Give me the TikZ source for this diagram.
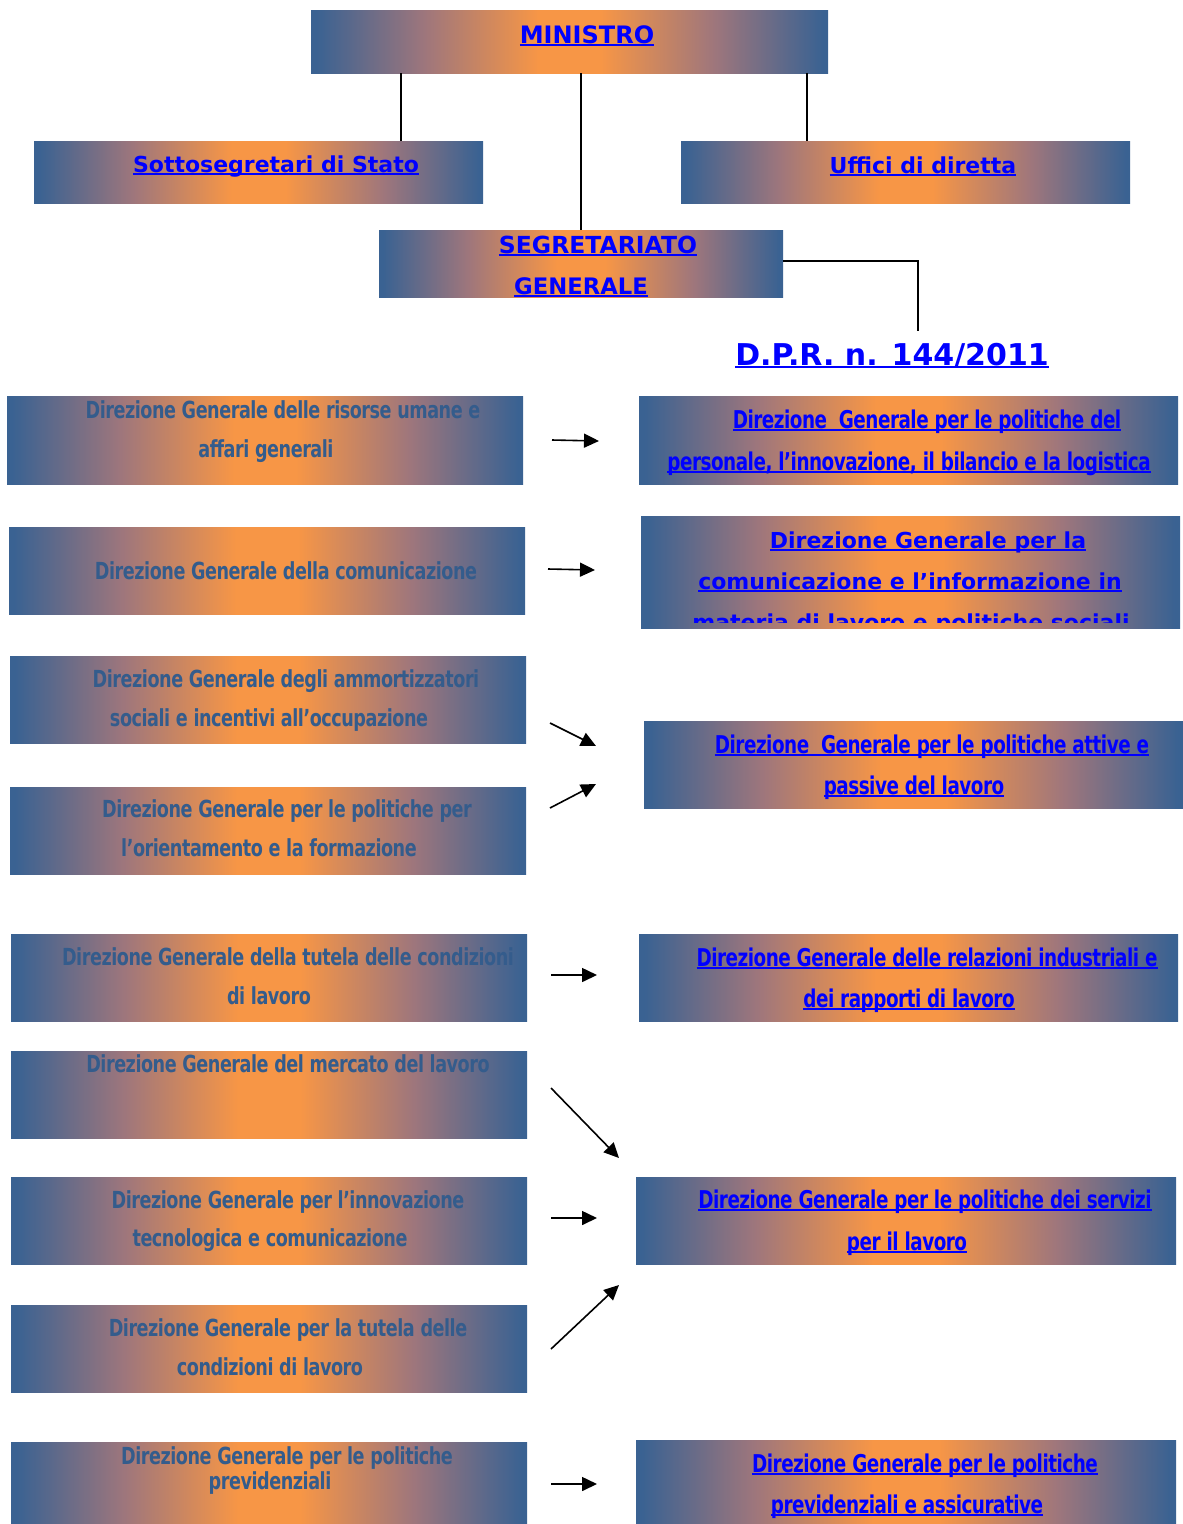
\documentclass[tikz,border=0pt]{standalone}
\usepackage{fontspec}
\usetikzlibrary{arrows.meta}
\setmainfont{DejaVu Sans}
\newfontfamily\verdb{DejaVu Sans Bold}
\newfontfamily\condb{DejaVu Sans Bold}[FakeStretch=0.75,LetterSpace=-2]
\definecolor{boxblue}{RGB}{58,98,146}
\definecolor{boxorange}{RGB}{247,150,70}
\definecolor{boxmauve}{RGB}{158,118,124}
\definecolor{dimtext}{RGB}{52,92,140}
\definecolor{linkblue}{RGB}{0,0,255}
\pgfdeclarehorizontalshading{bluorange}{100bp}{
  color(0bp)=(boxblue); color(25.5bp)=(boxblue); color(36bp)=(boxmauve); color(47bp)=(boxorange);
  color(53bp)=(boxorange); color(64bp)=(boxmauve); color(74.5bp)=(boxblue); color(100bp)=(boxblue)}
\newcommand{\ulx}[1]{\setbox0\hbox{#1}\rlap{\rule[-3pt]{\wd0}{1.8pt}}\box0}
\tikzset{
  orgbox/.style={rectangle, inner sep=0pt, shading=bluorange, draw=none},
  vtxt/.style={anchor=base, inner sep=0pt, text=linkblue, font=\verdb\fontsize{22}{26}\selectfont},
  ltxt/.style={anchor=base, inner sep=0pt, text=dimtext, font=\condb\fontsize{23.5}{26}\selectfont},
  rtxt/.style={anchor=base, inner sep=0pt, text=linkblue, font=\condb\fontsize{24.5}{28}\selectfont},
  conn/.style={line width=1.6pt, black},
  arr/.style={line width=1.6pt, black, -{Triangle[length=15pt,width=14pt]}}
}
\newcommand{\mkbox}[5]{\node[orgbox, minimum width={#4-#2}, minimum height={#5-#3}] (#1) at ({(#2+#4)/2},{(#3+#5)/2}) {};}
\begin{document}
\begin{tikzpicture}[x=1pt,y=-1pt]
\useasboundingbox (0,0) rectangle (1183,1524);
% top boxes
\mkbox{min}{311}{10}{828}{73}
\mkbox{sot}{34}{141}{483}{203}
\mkbox{uff}{681}{141}{1130}{203}
\mkbox{seg}{379}{230}{783}{297}
\node[vtxt,font=\verdb\fontsize{24}{28}\selectfont] (mint) at (587,43) {\ulx{MINISTRO}};
\node[vtxt] (sott) at (276,172) {\ulx{Sottosegretari di Stato}};
\node[vtxt] (ufft) at (923,173) {\ulx{Uffici di diretta}};
\node[vtxt,font=\verdb\fontsize{23.5}{28}\selectfont] (sega) at (598,253) {\ulx{SEGRETARIATO}};
\node[vtxt,font=\verdb\fontsize{22.7}{28}\selectfont] (segb) at (581,294) {\ulx{GENERALE}};
\node[vtxt,font=\verdb\fontsize{30}{34}\selectfont] (dpr) at (892,365) {\ulx{D.P.R. n. 144/2011}};
% connectors
\coordinate (c1) at (401,73);
\coordinate (c3) at (807,73);
\coordinate (c2) at (581,73);
\draw[conn] (c1) -- (c1 |- sot.north);
\draw[conn] (c2) -- (c2 |- seg.north);
\draw[conn] (c3) -- (c3 |- uff.north);
\coordinate (dprtop) at (918,331);
\draw[conn] (seg.east |- 0,261) -| (dprtop);
% left boxes
\mkbox{L1}{7}{396}{523}{484}
\mkbox{L2}{9}{527}{525}{614}
\mkbox{L3}{10}{656}{526}{743}
\mkbox{L4}{10}{787}{526}{874}
\mkbox{L5}{11}{934}{527}{1021}
\mkbox{L6}{11}{1051}{527}{1138}
\mkbox{L7}{11}{1177}{527}{1264}
\mkbox{L8}{11}{1305}{527}{1392}
\mkbox{L9}{11}{1442}{527}{1530}
\node[ltxt] (L1a) at (283,418) {Direzione Generale delle risorse umane e};
\node[ltxt] (L1b) at (266,457) {affari generali};
\node[ltxt] (L2a) at (286,579) {Direzione Generale della comunicazione};
\node[ltxt] (L3a) at (286,687) {Direzione Generale degli ammortizzatori};
\node[ltxt] (L3b) at (269,726) {sociali e incentivi all’occupazione};
\node[ltxt] (L4a) at (287,817) {Direzione Generale per le politiche per};
\node[ltxt] (L4b) at (269,856) {l’orientamento e la formazione};
\node[ltxt] (L5a) at (288,965) {Direzione Generale della tutela delle condizioni};
\node[ltxt] (L5b) at (269,1004) {di lavoro};
\node[ltxt] (L6a) at (288,1072) {Direzione Generale del mercato del lavoro};
\node[ltxt] (L7a) at (288,1208) {Direzione Generale per l’innovazione};
\node[ltxt] (L7b) at (270,1246) {tecnologica e comunicazione};
\node[ltxt] (L8a) at (288,1336) {Direzione Generale per la tutela delle};
\node[ltxt] (L8b) at (270,1375) {condizioni di lavoro};
\node[ltxt] (L9a) at (287,1464) {Direzione Generale per le politiche};
\node[ltxt] (L9b) at (270,1489) {previdenziali};
% right boxes
\mkbox{R1}{639}{396}{1178}{484}
\mkbox{R2}{641}{516}{1180}{628}
\mkbox{R3}{644}{721}{1183}{808}
\mkbox{R4}{639}{934}{1178}{1021}
\mkbox{R5}{636}{1177}{1176}{1264}
\mkbox{R6}{636}{1440}{1176}{1530}
\node[rtxt] (R1a) at (927,428) {\ulx{Direzione\ \ Generale per le politiche del}};
\node[rtxt] (R1b) at (909,470) {\ulx{personale, l’innovazione, il bilancio e la logistica}};
\node[vtxt] (R2a) at (928,548) {\ulx{Direzione Generale per la}};
\node[vtxt] (R2b) at (910,589) {\ulx{comunicazione e l’informazione in}};
\begin{scope}
\clip (R2.west |- 0,516) rectangle (R2.east |- 0,622);
\node[vtxt] (R2c) at (911,630) {\ulx{materia di lavoro e politiche sociali}};
\end{scope}
\node[rtxt] (R3a) at (932,753) {\ulx{Direzione\ \ Generale per le politiche attive e}};
\node[rtxt] (R3b) at (914,794) {\ulx{passive del lavoro}};
\node[rtxt] (R4a) at (927,966) {\ulx{Direzione Generale delle relazioni industriali e}};
\node[rtxt] (R4b) at (909,1007) {\ulx{dei rapporti di lavoro}};
\node[rtxt] (R5a) at (925,1208) {\ulx{Direzione Generale per le politiche dei servizi}};
\node[rtxt] (R5b) at (907,1250) {\ulx{per il lavoro}};
\node[rtxt] (R6a) at (925,1472) {\ulx{Direzione Generale per le politiche}};
\node[rtxt] (R6b) at (907,1513) {\ulx{previdenziali e assicurative}};
% arrows
\coordinate (a1s) at (552,440); \coordinate (a1e) at (599,441);
\coordinate (a2s) at (548,569); \coordinate (a2e) at (595,570);
\coordinate (a3s) at (550,723); \coordinate (a3e) at (596,746);
\coordinate (a4s) at (550,808); \coordinate (a4e) at (596,784);
\coordinate (a5s) at (551,975); \coordinate (a5e) at (597,975);
\coordinate (a6s) at (551,1088); \coordinate (a6e) at (619,1158);
\coordinate (a7s) at (551,1218); \coordinate (a7e) at (597,1218);
\coordinate (a8s) at (551,1349); \coordinate (a8e) at (619,1285);
\coordinate (a9s) at (551,1484); \coordinate (a9e) at (597,1484);
\foreach \i in {1,...,9} {\draw[arr] (a\i s) -- (a\i e);}
\end{tikzpicture}
\end{document}
